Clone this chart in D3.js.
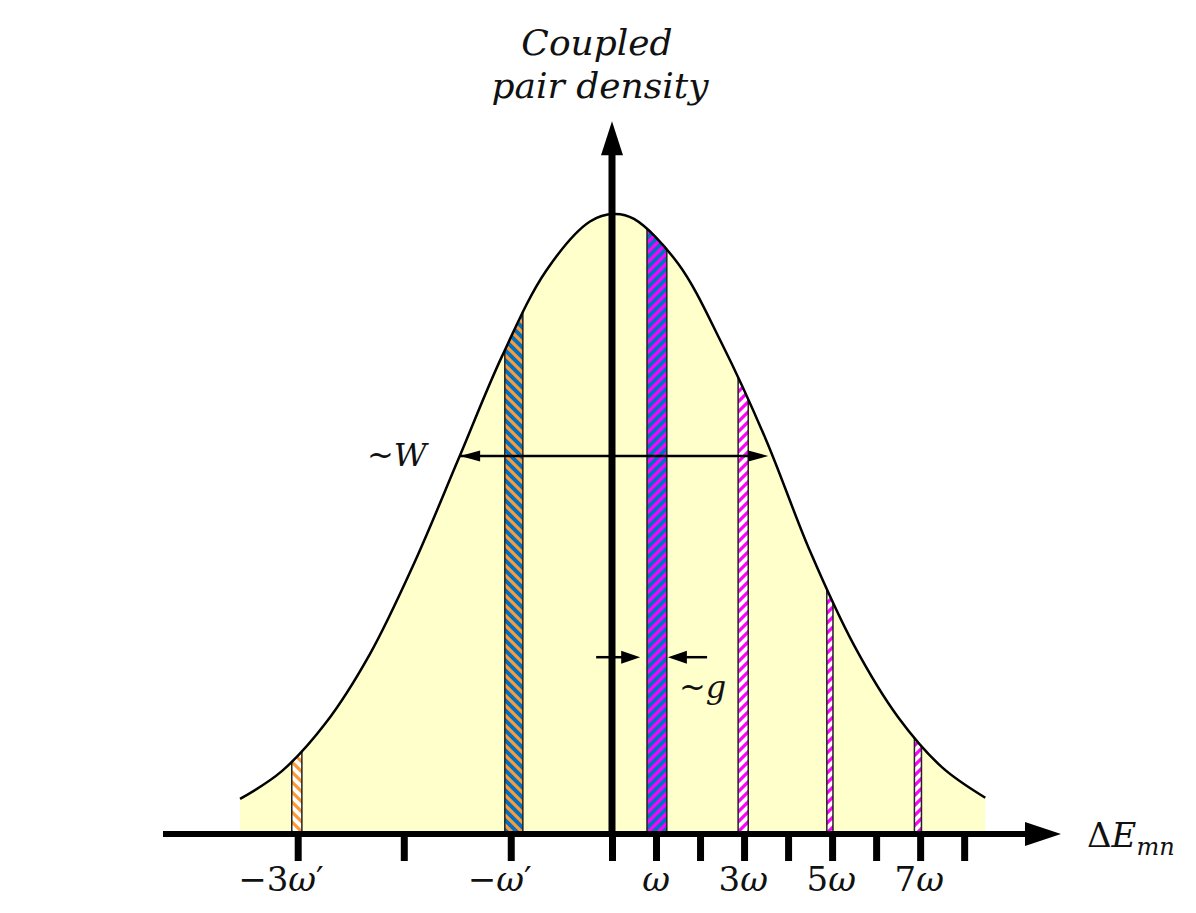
<!DOCTYPE html>
<html lang="en">
<head>
<meta charset="utf-8">
<title>Coupled pair density</title>
<script src="https://d3js.org/d3.v7.min.js"></script>
<style>
  body { margin: 0; background: #fff; }
  svg text { font-family: "DejaVu Serif", "Liberation Serif", serif; fill: #111; }
  .it { font-style: italic; }
</style>
</head>
<body>
<div id="chart"></div>
<script>
// energy axis in units of omega, density relative to the peak
var curveX = [-8.45, -7.5, -6.5, -5.5, -4.5, -3.5, -2.5, -1.5, -0.5, 0.05, 0.5, 1.5, 2.5, 3.5, 4.5, 5.5, 6.5, 7.5, 8.48];
var curveY = [0.055, 0.10, 0.178, 0.289, 0.435, 0.602, 0.770, 0.908, 0.988, 1.0, 0.992, 0.92, 0.79, 0.635, 0.455, 0.303, 0.187, 0.106, 0.057];

var stripeX = [-7.16, -2.23, 1.02, 2.98, 4.95, 6.95];
var stripeW = [0.23, 0.41, 0.45, 0.23, 0.14, 0.16];
var stripeKind = ["orangeWhite", "orangeBlue", "magentaBlue", "magentaWhite", "magentaWhite", "magentaWhite"];

var tickValues = [-7.14, -4.73, -2.3, 0, 1, 2, 3, 4, 5, 6, 7, 8];
var tickLabels = ["−3ω′", "−ω′", "ω", "3ω", "5ω", "7ω"];
var tickLabelX = [-7.52, -2.55, 1, 2.98, 4.98, 6.98];

var widthArrow = [-3.45, 3.55, 0.609];   // x from, x to, density
var gArrowLeft = [-0.36, 0.64, 0.284];
var gArrowRight = [2.16, 1.27, 0.284];

var svgW = 1196, svgH = 913;

var x = d3.scaleLinear().domain([-10.2, 10.2]).range([163, 1061]);
var y = d3.scaleLinear().domain([0, 1]).range([833, 214]);

var svg = d3.select("#chart").append("svg")
    .attr("width", svgW)
    .attr("height", svgH);

var defs = svg.append("defs");

// hatch patterns
function hatch(id, bg, fg, dir) {
    var s = 10;
    var p = defs.append("pattern")
        .attr("id", id)
        .attr("patternUnits", "userSpaceOnUse")
        .attr("width", s)
        .attr("height", s);
    p.append("rect").attr("width", s).attr("height", s).attr("fill", bg);
    var d = dir == "/" ? "M-2,2 l4,-4 M0," + s + " l" + s + ",-" + s + " M" + (s - 2) + "," + (s + 2) + " l4,-4"
                       : "M-2," + (s - 2) + " l4,4 M0,0 l" + s + "," + s + " M" + (s - 2) + ",-2 l4,4";
    p.append("path").attr("d", d).attr("stroke", fg).attr("stroke-width", 3.2);
}
hatch("orangeWhite", "#ffffff", "#ff9a33", "\\");
hatch("orangeBlue", "#0070c0", "#ff9a33", "\\");
hatch("magentaBlue", "#0070c0", "#ff00ff", "/");
hatch("magentaWhite", "#ffffff", "#ff00ff", "/");

var pts = curveX.map(function(v, i) { return [v, curveY[i]]; });

var area = d3.area()
    .x(function(d) { return x(d[0]); })
    .y0(y(0))
    .y1(function(d) { return y(d[1]); })
    .curve(d3.curveCatmullRom);

var line = d3.line()
    .x(function(d) { return x(d[0]); })
    .y(function(d) { return y(d[1]); })
    .curve(d3.curveCatmullRom);

defs.append("clipPath").attr("id", "under")
    .append("path").attr("d", area(pts));

svg.append("path")
    .attr("d", area(pts))
    .attr("fill", "#ffffcc");

// stripes
svg.append("g")
    .attr("clip-path", "url(#under)")
    .selectAll("rect")
    .data(stripeX)
    .enter()
    .append("rect")
    .attr("x", function(d, i) { return x(d - stripeW[i] / 2); })
    .attr("width", function(d, i) { return x(stripeW[i]) - x(0); })
    .attr("y", y(1.05))
    .attr("height", y(0) - y(1.05))
    .attr("fill", function(d, i) { return "url(#" + stripeKind[i] + ")"; })
    .attr("stroke", "#222")
    .attr("stroke-width", 1.5);

svg.append("path")
    .attr("d", line(pts))
    .attr("fill", "none")
    .attr("stroke", "#000")
    .attr("stroke-width", 2.5);

// axes
var axis = d3.axisBottom(x).tickValues(tickValues).tickSize(28).tickFormat("");
var gx = svg.append("g")
    .attr("transform", "translate(0," + y(0) + ")")
    .call(axis);
gx.select(".domain").remove();
gx.selectAll(".tick line").attr("stroke", "#000").attr("stroke-width", 7);

svg.append("line")
    .attr("x1", x(-10.2)).attr("x2", x(9.6))
    .attr("y1", y(0) + 1).attr("y2", y(0) + 1)
    .attr("stroke", "#000").attr("stroke-width", 6);
svg.append("path")
    .attr("d", "M" + x(10.2) + "," + (y(0) + 1) + " L" + (x(10.2) - 36) + "," + (y(0) - 11) +
               " L" + (x(10.2) - 36) + "," + (y(0) + 13) + "Z")
    .attr("fill", "#000");

svg.append("line")
    .attr("x1", x(0)).attr("x2", x(0))
    .attr("y1", y(0)).attr("y2", y(1.1))
    .attr("stroke", "#000").attr("stroke-width", 7);
svg.append("path")
    .attr("d", "M" + x(0) + "," + y(1.15) + " L" + (x(0) - 11) + "," + (y(1.15) + 34) +
               " L" + (x(0) + 11) + "," + (y(1.15) + 34) + "Z")
    .attr("fill", "#000");

// arrows
function arrow(x1, x2, yy, both, head, half) {
    var px1 = x(x1), px2 = x(x2), py = y(yy);
    var dir = px2 > px1 ? 1 : -1;
    svg.append("line")
        .attr("x1", px1).attr("x2", px2 - dir * head * 0.7)
        .attr("y1", py).attr("y2", py)
        .attr("stroke", "#000").attr("stroke-width", 2.5);
    svg.append("path")
        .attr("d", "M" + px2 + "," + py + " L" + (px2 - dir * head) + "," + (py - half) +
                   " L" + (px2 - dir * head) + "," + (py + half) + "Z")
        .attr("fill", "#000");
    if (both) {
        svg.append("path")
            .attr("d", "M" + px1 + "," + py + " L" + (px1 + dir * head) + "," + (py - half) +
                       " L" + (px1 + dir * head) + "," + (py + half) + "Z")
            .attr("fill", "#000");
    }
}
arrow(widthArrow[0], widthArrow[1], widthArrow[2], true, 20, 5.5);
arrow(gArrowLeft[0], gArrowLeft[1], gArrowLeft[2], false, 19, 6.5);
arrow(gArrowRight[0], gArrowRight[1], gArrowRight[2], false, 19, 6.5);

// math-ish text: letters italic, digits and symbols upright
function mathText(sel, str) {
    Array.from(str).forEach(function(ch) {
        var t = sel.append("tspan").text(ch);
        if (/[A-Za-zα-ω]/.test(ch)) t.attr("class", "it");
    });
}

svg.selectAll(".tlabel")
    .data(tickLabels)
    .enter()
    .append("text")
    .attr("class", "tlabel")
    .attr("x", function(d, i) { return x(tickLabelX[i]); })
    .attr("y", 891)
    .attr("text-anchor", "middle")
    .attr("font-size", 34)
    .each(function(d) { mathText(d3.select(this), d); });

var yl = svg.append("text")
    .attr("class", "it")
    .attr("text-anchor", "middle")
    .attr("font-size", 36);
yl.append("tspan").attr("x", 597).attr("y", 55).text("Coupled");
yl.append("tspan").attr("x", 600).attr("y", 98).text("pair density");

var xl = svg.append("text")
    .attr("x", 1087)
    .attr("y", 847)
    .attr("font-size", 34);
xl.append("tspan").text("Δ");
xl.append("tspan").attr("class", "it").text("E");
xl.append("tspan").attr("class", "it").attr("font-size", 24).attr("dy", 8).text("mn");

var wl = svg.append("text")
    .attr("x", 367)
    .attr("y", 466)
    .attr("font-size", 32);
wl.append("tspan").text("~");
wl.append("tspan").attr("class", "it").text("W");

var gl = svg.append("text")
    .attr("x", 679)
    .attr("y", 698)
    .attr("font-size", 32);
gl.append("tspan").text("~");
gl.append("tspan").attr("class", "it").text("g");
</script>
</body>
</html>
